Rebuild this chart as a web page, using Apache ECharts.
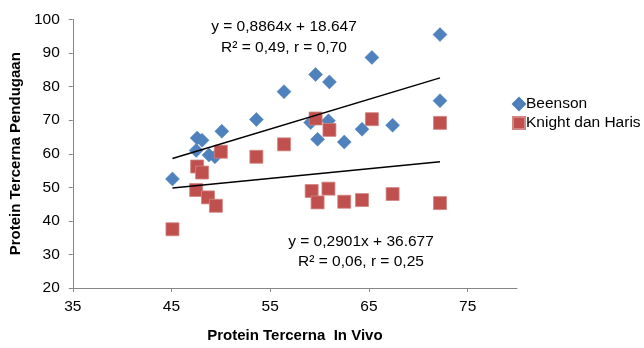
<!DOCTYPE html>
<html>
<head>
<meta charset="utf-8">
<script src="https://cdn.jsdelivr.net/npm/echarts@6/dist/echarts.min.js"></script>
<style>
  html, body { margin: 0; padding: 0; background: #fff; }
  #chart { width: 644px; height: 348px; }
</style>
</head>
<body>
<div id="chart"></div>
<script>
// nilai
const xInVivo = [45.1, 47.6, 48.1, 47.5, 48.8, 49.4, 50.1, 53.6, 56.4, 59.1,
                 59.6, 59.8, 60.9, 61.0, 62.5, 64.3, 65.3, 67.4, 72.2, 72.2];
const beenson = [52.5, 64.7, 64.0, 61.0, 59.6, 59.1, 66.7, 70.2, 78.5, 69.3,
                 83.6, 64.3, 69.8, 81.4, 63.5, 67.3, 88.7, 68.5, 95.5, 75.8];
const xKnight = [45.1, 47.5, 47.6, 48.1, 48.7, 49.5, 50.0, 53.6, 56.4, 59.2,
                 59.6, 59.8, 60.9, 61.0, 62.5, 64.3, 65.3, 67.4, 72.2, 72.2];
const knight = [37.5, 49.2, 56.2, 54.4, 47.0, 44.5, 60.6, 59.1, 62.8, 48.9,
                70.5, 45.5, 49.6, 67.1, 45.7, 46.2, 70.3, 48.0, 69.2, 45.3];
// ujung garis tren
const trendBeenson = [[45.1, 58.6], [72.2, 82.6]];
const trendKnight = [[45.1, 49.8], [72.2, 57.6]];
const xTicks = [35, 45, 55, 65, 75];
const legendNames = ['Beenson', 'Knight dan Haris'];
const eqBeenson = 'y = 0,8864x + 18.647\nR² = 0,49, r = 0,70';
const eqKnight = 'y = 0,2901x + 36.677\nR² = 0,06, r = 0,25';

const font = 'Liberation Sans';
const pair = (xs, ys) => xs.map((x, i) => [x, ys[i]]);

const myChart = echarts.init(document.getElementById('chart'));
myChart.setOption({
    animation: false,
    backgroundColor: '#fff',
    textStyle: { fontFamily: font },
    grid: { left: 72, right: 127, top: 19.5, bottom: 54 },
    legend: {
        data: legendNames,
        orient: 'vertical',
        left: 507,
        top: 91,
        itemWidth: 12,
        itemHeight: 12,
        itemGap: 3,
        textStyle: { fontFamily: font, fontSize: 15.5, color: '#000', padding: [0, 0, 0, -4] }
    },
    xAxis: {
        type: 'value',
        min: 35,
        max: 80,
        splitLine: { show: false },
        axisLine: { lineStyle: { color: '#868686', width: 1 } },
        axisTick: { show: true, length: 4, customValues: xTicks, lineStyle: { color: '#868686' } },
        axisLabel: { customValues: xTicks, margin: 11, fontSize: 15.5, color: '#000', fontFamily: font },
        name: 'Protein Tercerna  In Vivo',
        nameLocation: 'middle',
        nameGap: 40,
        nameTextStyle: { fontWeight: 'bold', fontSize: 15, color: '#000', fontFamily: font }
    },
    yAxis: {
        type: 'value',
        min: 20,
        max: 100,
        interval: 10,
        splitLine: { show: false },
        axisLine: { show: true, lineStyle: { color: '#868686', width: 1 } },
        axisTick: { show: true, length: 4, lineStyle: { color: '#868686' } },
        axisLabel: { margin: 13, fontSize: 15.5, color: '#000', fontFamily: font },
        name: 'Protein Tercerna Pendugaan',
        nameLocation: 'middle',
        nameGap: 46,
        nameTextStyle: { fontWeight: 'bold', fontSize: 15, color: '#000', fontFamily: font }
    },
    series: [
        {
            name: 'Beenson',
            type: 'scatter',
            symbol: 'diamond',
            symbolSize: 14,
            itemStyle: { color: '#4F81BD', borderColor: '#4A7EBB', borderWidth: 0.5, opacity: 1 },
            data: pair(xInVivo, beenson)
        },
        {
            name: 'Knight dan Haris',
            type: 'scatter',
            symbol: 'rect',
            symbolSize: 13,
            itemStyle: { color: '#C0504D', borderColor: '#D08684', borderWidth: 0.8, opacity: 1 },
            data: pair(xKnight, knight)
        },
        {
            type: 'line',
            symbol: 'none',
            silent: true,
            z: 5,
            lineStyle: { color: '#000', width: 1.5 },
            data: trendBeenson
        },
        {
            type: 'line',
            symbol: 'none',
            silent: true,
            z: 5,
            lineStyle: { color: '#000', width: 1.5 },
            data: trendKnight
        }
    ],
    graphic: [
        {
            type: 'text',
            x: 284,
            y: 16,
            style: {
                text: eqBeenson,
                align: 'center',
                fontFamily: font,
                fontSize: 15.5,
                lineHeight: 21,
                fill: '#000'
            }
        },
        {
            type: 'text',
            x: 361,
            y: 231.5,
            style: {
                text: eqKnight,
                align: 'center',
                fontFamily: font,
                fontSize: 15.5,
                lineHeight: 20,
                fill: '#000'
            }
        }
    ]
});
</script>
</body>
</html>
